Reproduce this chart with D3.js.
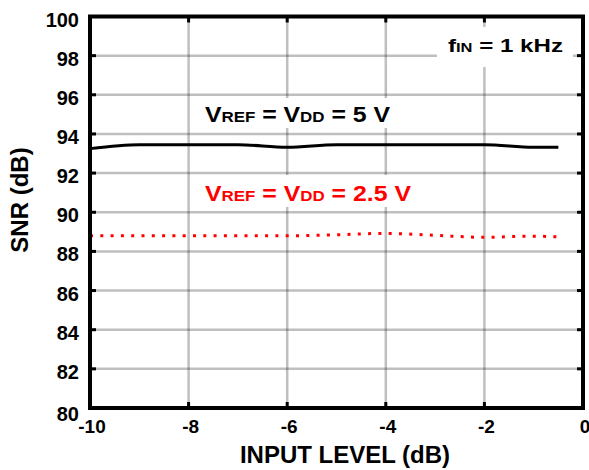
<!DOCTYPE html>
<html>
<head>
<meta charset="utf-8">
<style>
    body {
        margin: 0;
        background: #fff;
    }
    svg text {
        font-family: "Liberation Sans", Arial, sans-serif;
        font-weight: bold;
    }
    .grid line {
        stroke: #000;
        stroke-opacity: 0.25;
        stroke-width: 2.5;
    }
</style>
</head>
<body>
<svg width="589" height="470"></svg>
<script src="https://d3js.org/d3.v7.min.js"></script>
<script>
    // input level (dB) where the points were read
    var inputLevel = [-10, -9, -8, -7, -6, -5, -4, -3, -2, -1, -0.5];
    // SNR (dB), VREF = VDD = 5 V
    var snr5V = [93.25, 93.45, 93.45, 93.45, 93.32, 93.45, 93.45, 93.45, 93.45, 93.32, 93.32];
    // SNR (dB), VREF = VDD = 2.5 V
    var snr25V = [88.8, 88.8, 88.8, 88.8, 88.8, 88.85, 88.92, 88.82, 88.72, 88.78, 88.74];

    var xTicks = [-10, -8, -6, -4, -2, 0];
    var yTicks = [80, 82, 84, 86, 88, 90, 92, 94, 96, 98, 100];

    var svg = d3.select("svg"),
        plotL = 90, plotR = 583, plotT = 16.5, plotB = 408;

    var x = d3.scaleLinear().domain([-10, 0]).range([plotL, plotR]);
    var y = d3.scaleLinear().domain([80, 100]).range([plotB, plotT]);

    // grid
    var grid = svg.append("g").attr("class", "grid");
    grid.selectAll(".h").data(yTicks.slice(1, -1)).enter().append("line")
        .attr("x1", plotL).attr("x2", plotR)
        .attr("y1", d => y(d)).attr("y2", d => y(d));
    grid.selectAll(".v").data(xTicks.slice(1, -1)).enter().append("line")
        .attr("y1", plotT).attr("y2", plotB)
        .attr("x1", d => x(d)).attr("x2", d => x(d));

    // white boxes behind the labels (they hide the grid)
    svg.append("rect").attr("x", 200).attr("y", 98).attr("width", 196).attr("height", 30).attr("fill", "#fff");
    svg.append("rect").attr("x", 200).attr("y", 175).attr("width", 216).attr("height", 32).attr("fill", "#fff");
    svg.append("rect").attr("x", 437).attr("y", 27).attr("width", 136).attr("height", 40).attr("fill", "#fff");

    // curves
    var line = d3.line()
        .x((d, i) => x(inputLevel[i]))
        .y(d => y(d))
        .curve(d3.curveMonotoneX);

    svg.append("path").datum(snr5V)
        .attr("d", line)
        .attr("fill", "none")
        .attr("stroke", "#000")
        .attr("stroke-width", 3);

    svg.append("path").datum(snr25V)
        .attr("d", line)
        .attr("fill", "none")
        .attr("stroke", "#ff0000")
        .attr("stroke-width", 3)
        .attr("stroke-dasharray", "3,7.3");

    // frame
    svg.append("rect")
        .attr("x", plotL).attr("y", plotT)
        .attr("width", plotR - plotL).attr("height", plotB - plotT)
        .attr("fill", "none").attr("stroke", "#000").attr("stroke-width", 4);

    // inner ticks on all sides
    var ticks = svg.append("g").attr("stroke", "#000").attr("stroke-width", 3);
    yTicks.slice(1, -1).forEach(function(d) {
        ticks.append("line").attr("x1", plotL).attr("x2", plotL + 6).attr("y1", y(d)).attr("y2", y(d));
        ticks.append("line").attr("x1", plotR - 6).attr("x2", plotR).attr("y1", y(d)).attr("y2", y(d));
    });
    xTicks.slice(1, -1).forEach(function(d) {
        ticks.append("line").attr("x1", x(d)).attr("x2", x(d)).attr("y1", plotT).attr("y2", plotT + 6);
        ticks.append("line").attr("x1", x(d)).attr("x2", x(d)).attr("y1", plotB - 6).attr("y2", plotB);
    });

    // tick labels
    svg.selectAll(".ylab").data(yTicks).enter().append("text")
        .attr("x", 79)
        .attr("y", d => y(d) + (d === 80 ? 13 : 10))
        .attr("text-anchor", "end")
        .attr("font-size", 20)
        .text(d => d);

    svg.selectAll(".xlab").data(xTicks).enter().append("text")
        .attr("x", d => x(d) + 2)
        .attr("y", 433)
        .attr("text-anchor", "middle")
        .attr("font-size", 19)
        .text(d => d);

    // axis titles
    svg.append("text")
        .attr("x", 345).attr("y", 463)
        .attr("text-anchor", "middle")
        .attr("font-size", 24)
        .text("INPUT LEVEL (dB)");

    svg.append("text")
        .attr("transform", "translate(28,200) rotate(-90)")
        .attr("text-anchor", "middle")
        .attr("font-size", 24)
        .text("SNR (dB)");

    // labels with small-cap subscripts
    function label(xPos, yPos, parts, color, big, small, len) {
        var t = svg.append("text")
            .attr("x", xPos).attr("y", yPos)
            .attr("fill", color)
            .attr("textLength", len)
            .attr("lengthAdjust", "spacingAndGlyphs");
        parts.forEach(function(p) {
            t.append("tspan").attr("font-size", p[1] ? small : big).text(p[0]);
        });
    }

    label(205, 122, [["V", 0], ["REF", 1], [" = V", 0], ["DD", 1], [" = 5 V", 0]], "#000", 22, 15, 185);
    label(205, 201, [["V", 0], ["REF", 1], [" = V", 0], ["DD", 1], [" = 2.5 V", 0]], "#ff0000", 22, 15, 206);
    label(448, 52, [["f", 0], ["IN", 1], [" = 1 kHz", 0]], "#000", 19, 13, 115);
</script>
</body>
</html>
